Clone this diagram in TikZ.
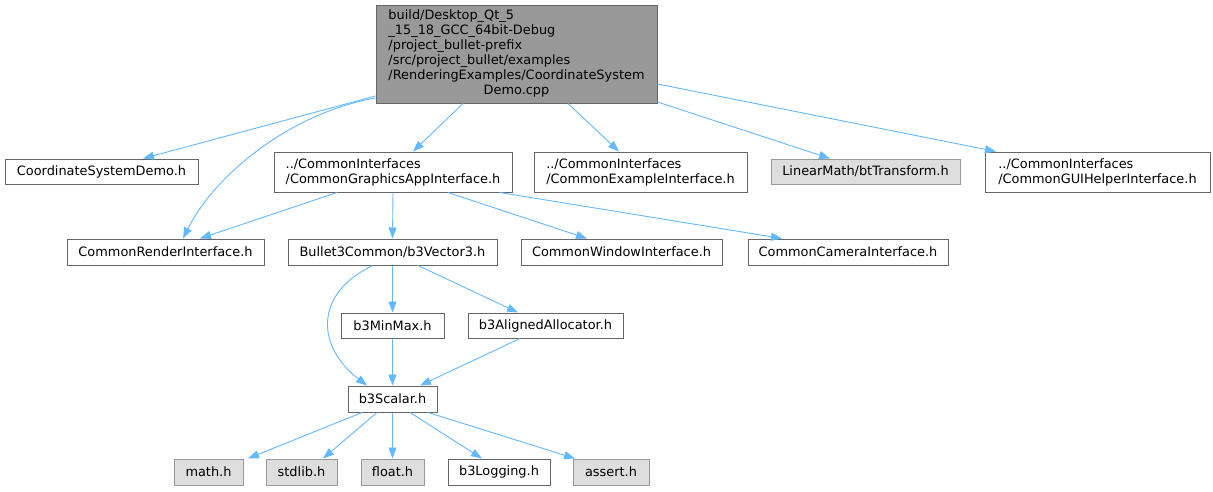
\documentclass[tikz,border=0pt]{standalone}
\usepackage{fontspec}
\setmainfont{DejaVu Sans}
\usetikzlibrary{arrows.meta}
\definecolor{edgeblue}{HTML}{63B8FF}
\definecolor{greyforty}{HTML}{666666}
\definecolor{greysixty}{HTML}{999999}
\definecolor{greyeightyseven}{HTML}{DEDEDE}
\begin{document}
\begin{tikzpicture}[x=1pt,y=-1pt,
  basebox/.style={rectangle,inner sep=0pt,line width=1pt,font=\fontsize{12.9}{15}\selectfont,text=black},
  filebox/.style={basebox,draw=greyforty,fill=white},
  extbox/.style={basebox,draw=greysixty,fill=greyeightyseven},
  rootbox/.style={basebox,draw=greyforty,fill=greysixty},
  dep/.style={draw=edgeblue,line width=0.9pt,-{Triangle[length=11pt,width=8pt]},fill=none},
]
\useasboundingbox (0,0) rectangle (1213,491);
% nodes
\node[rootbox,minimum width=281,minimum height=98] (root) at (516.5,54)
  {\begin{tabular}{@{}l@{}}build/Desktop\_Qt\_5\\ \_15\_18\_GCC\_64bit-Debug\\ /project\_bullet-prefix\\ /src/project\_bullet/examples\\ /RenderingExamples/CoordinateSystem\\ \multicolumn{1}{@{}c@{}}{Demo.cpp}\end{tabular}};
\node[filebox,minimum width=193,minimum height=25] (csd) at (101.5,171.5) {CoordinateSystemDemo.h};
\node[filebox,minimum width=238,minimum height=40,align=left] (cgai) at (393,172) {../CommonInterfaces\\/CommonGraphicsAppInterface.h};
\node[filebox,minimum width=213,minimum height=40,align=left] (cexi) at (640.5,172) {../CommonInterfaces\\/CommonExampleInterface.h};
\node[extbox,minimum width=189,minimum height=25] (btt) at (865.5,171.5) {LinearMath/btTransform.h};
\node[filebox,minimum width=225,minimum height=40,align=left] (cgui) at (1097.5,172) {../CommonInterfaces\\/CommonGUIHelperInterface.h};
\node[filebox,minimum width=197,minimum height=26] (cri) at (165.5,252) {CommonRenderInterface.h};
\node[filebox,minimum width=209,minimum height=26] (b3v) at (392.5,252) {Bullet3Common/b3Vector3.h};
\node[filebox,minimum width=201,minimum height=26] (win) at (621.5,252) {CommonWindowInterface.h};
\node[filebox,minimum width=200,minimum height=26] (cam) at (848,252) {CommonCameraInterface.h};
\node[filebox,minimum width=103,minimum height=25] (minmax) at (392.5,325.5) {b3MinMax.h};
\node[filebox,minimum width=155,minimum height=25] (alloc) at (545.5,325.5) {b3AlignedAllocator.h};
\node[filebox,minimum width=89,minimum height=26] (scalar) at (392.5,399) {b3Scalar.h};
\node[extbox,minimum width=69,minimum height=26] (math) at (208.5,472) {math.h};
\node[extbox,minimum width=71,minimum height=26] (stdlib) at (301.5,472) {stdlib.h};
\node[extbox,minimum width=63,minimum height=26] (float) at (392.5,472) {float.h};
\node[filebox,minimum width=102,minimum height=26] (logging) at (499,472) {b3Logging.h};
\node[extbox,minimum width=76,minimum height=26] (assert) at (611,472) {assert.h};
% edges
\draw[dep] ([yshift=-42]root.west) -- ([xshift=41.5]csd.north);
\draw[dep] ([yshift=-44]root.west) .. controls +(-85,15) and +(32,-64) .. ([xshift=17.5]cri.north);
\draw[dep] ([xshift=-53.5]root.south) -- ([xshift=20]cgai.north);
\draw[dep] ([xshift=51.5]root.south) -- ([xshift=-21.5]cexi.north);
\draw[dep] ([yshift=-48]root.east) -- ([xshift=-35.5]btt.north);
\draw[dep] ([yshift=-30]root.east) -- ([xshift=-101.5]cgui.north);
\draw[dep] ([xshift=-56]cgai.south) -- ([xshift=34.5]cri.north);
\draw[dep] (cgai.south) -- (b3v.north);
\draw[dep] ([xshift=55]cgai.south) -- ([xshift=-34.5]win.north);
\draw[dep] ([xshift=107]cgai.south) -- ([xshift=-66]cam.north);
\draw[dep] ([xshift=-19.5]b3v.south) .. controls +(-58,27) and +(-52,-40) .. ([xshift=-25.5]scalar.north);
\draw[dep] (b3v.south) -- (minmax.north);
\draw[dep] ([xshift=25.5]b3v.south) -- ([xshift=-27.5]alloc.north);
\draw[dep] (minmax.south) -- (scalar.north);
\draw[dep] ([xshift=-25.5]alloc.south) -- ([xshift=27.5]scalar.north);
\draw[dep] ([xshift=-30.5]scalar.south) -- ([xshift=39.5]math.north);
\draw[dep] ([xshift=-15.5]scalar.south) -- ([xshift=21.5]stdlib.north);
\draw[dep] (scalar.south) -- (float.north);
\draw[dep] ([xshift=17.5]scalar.south) -- ([xshift=-17]logging.north);
\draw[dep] ([xshift=35.5]scalar.south) -- ([xshift=-36]assert.north);
\end{tikzpicture}
\end{document}
